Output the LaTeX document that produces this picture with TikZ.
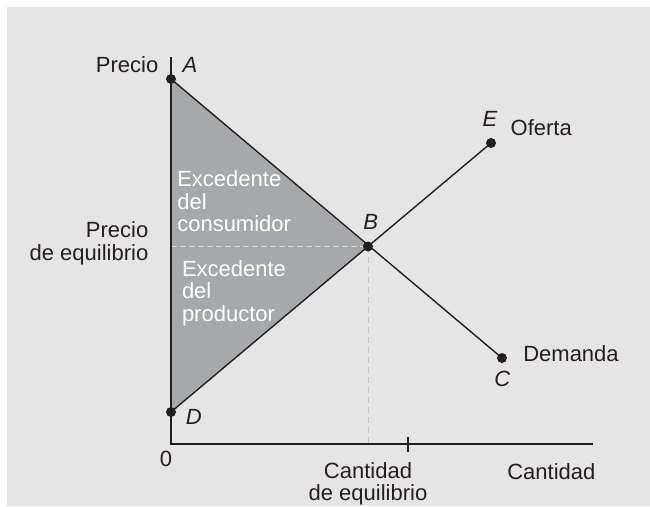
\documentclass[tikz,border=0pt]{standalone}
\usepackage{fontspec}
\setmainfont{Liberation Sans}
\definecolor{ink}{HTML}{231F20}
\definecolor{panel}{HTML}{E5E5E5}
\definecolor{surplus}{HTML}{A7A8AA}
\definecolor{hdashc}{HTML}{DADADA}
\definecolor{vdashc}{HTML}{C6C6C6}
\begin{document}
\begin{tikzpicture}[x=1pt,y=-1pt,
  lbl/.style={font=\fontsize{22}{22.5}\selectfont, text=ink, inner sep=0pt, outer sep=0pt},
  wlbl/.style={lbl, text=white, align=left},
  letter/.style={lbl, font=\fontsize{22}{22.5}\selectfont\itshape},
  dot/.style={circle, inner sep=0pt, minimum size=10pt},
  curve/.style={draw=ink, line width=1.4pt},
  axisline/.style={draw=ink, line width=1.4pt},
  hguide/.style={draw=hdashc, line width=1pt, dash pattern=on 6pt off 3pt},
  vguide/.style={draw=vdashc, line width=1pt, dash pattern=on 6pt off 4pt}]
\useasboundingbox (0,0) rectangle (650,506);
\fill[white] (0,0) rectangle (650,506);
\fill[panel] (7,7) rectangle (650,506);
% geometry
\coordinate (O) at (171,444);
\coordinate (ytop) at (171,57);
\coordinate (xend) at (593,444);
\coordinate (tickT) at (408,437);
\coordinate (tickB) at (408,452);
\node[dot] (A) at (171,79) {};
\node[dot] (B) at (368,246.5) {};
\node[dot] (C) at (502,358) {};
\node[dot] (D) at (171,412) {};
\node[dot] (E) at (491,143) {};
% surplus area
\fill[surplus] (A.center) -- (B.center) -- (D.center) -- cycle;
\draw[hguide] (O |- B.center) -- (B.center);
\draw[vguide] (B.center) -- (B.center |- O);
% curves
\draw[curve] (A.center) -- (C.center);
\draw[curve] (D.center) -- (E.center);
% axes
\draw[axisline] (ytop) -- (O) -- (xend);
\draw[axisline] (tickT) -- (tickB);
% dots on top
\foreach \p in {A,B,C,D,E} \fill[ink] (\p.center) circle (5pt);
% labels
\node[lbl, anchor=base east] (lprecio) at (158.3,72.7) {Precio};
\node[letter, anchor=base] (lA) at (190,72.7) {A};
\node[letter, anchor=base] (lE) at (490,126.7) {E};
\node[lbl, anchor=base west] (loferta) at (510.7,135.7) {Oferta};
\node[letter, anchor=base] (lB) at (370.7,229) {B};
\node[lbl, anchor=base west] (ldemanda) at (523.3,361.7) {Demanda};
\node[letter, anchor=base] (lC) at (502.3,386.7) {C};
\node[letter, anchor=base] (lD) at (193.7,424) {D};
\node[lbl, anchor=base] (lzero) at (166,466) {0};
\node[lbl, align=right, anchor=base east] (lpeq) at (148.3,260) {Precio\\de equilibrio};
\node[wlbl, anchor=base west] (lcons) at (177.3,231.7) {Excedente\\del\\consumidor};
\node[wlbl, anchor=base west] (lprod) at (182,321) {Excedente\\del\\productor};
\node[lbl, align=center, anchor=base] (lqeq) at (368,500.5) {Cantidad\\de equilibrio};
\node[lbl, anchor=base west] (lcant) at (507.3,479.3) {Cantidad};
\end{tikzpicture}
\end{document}
